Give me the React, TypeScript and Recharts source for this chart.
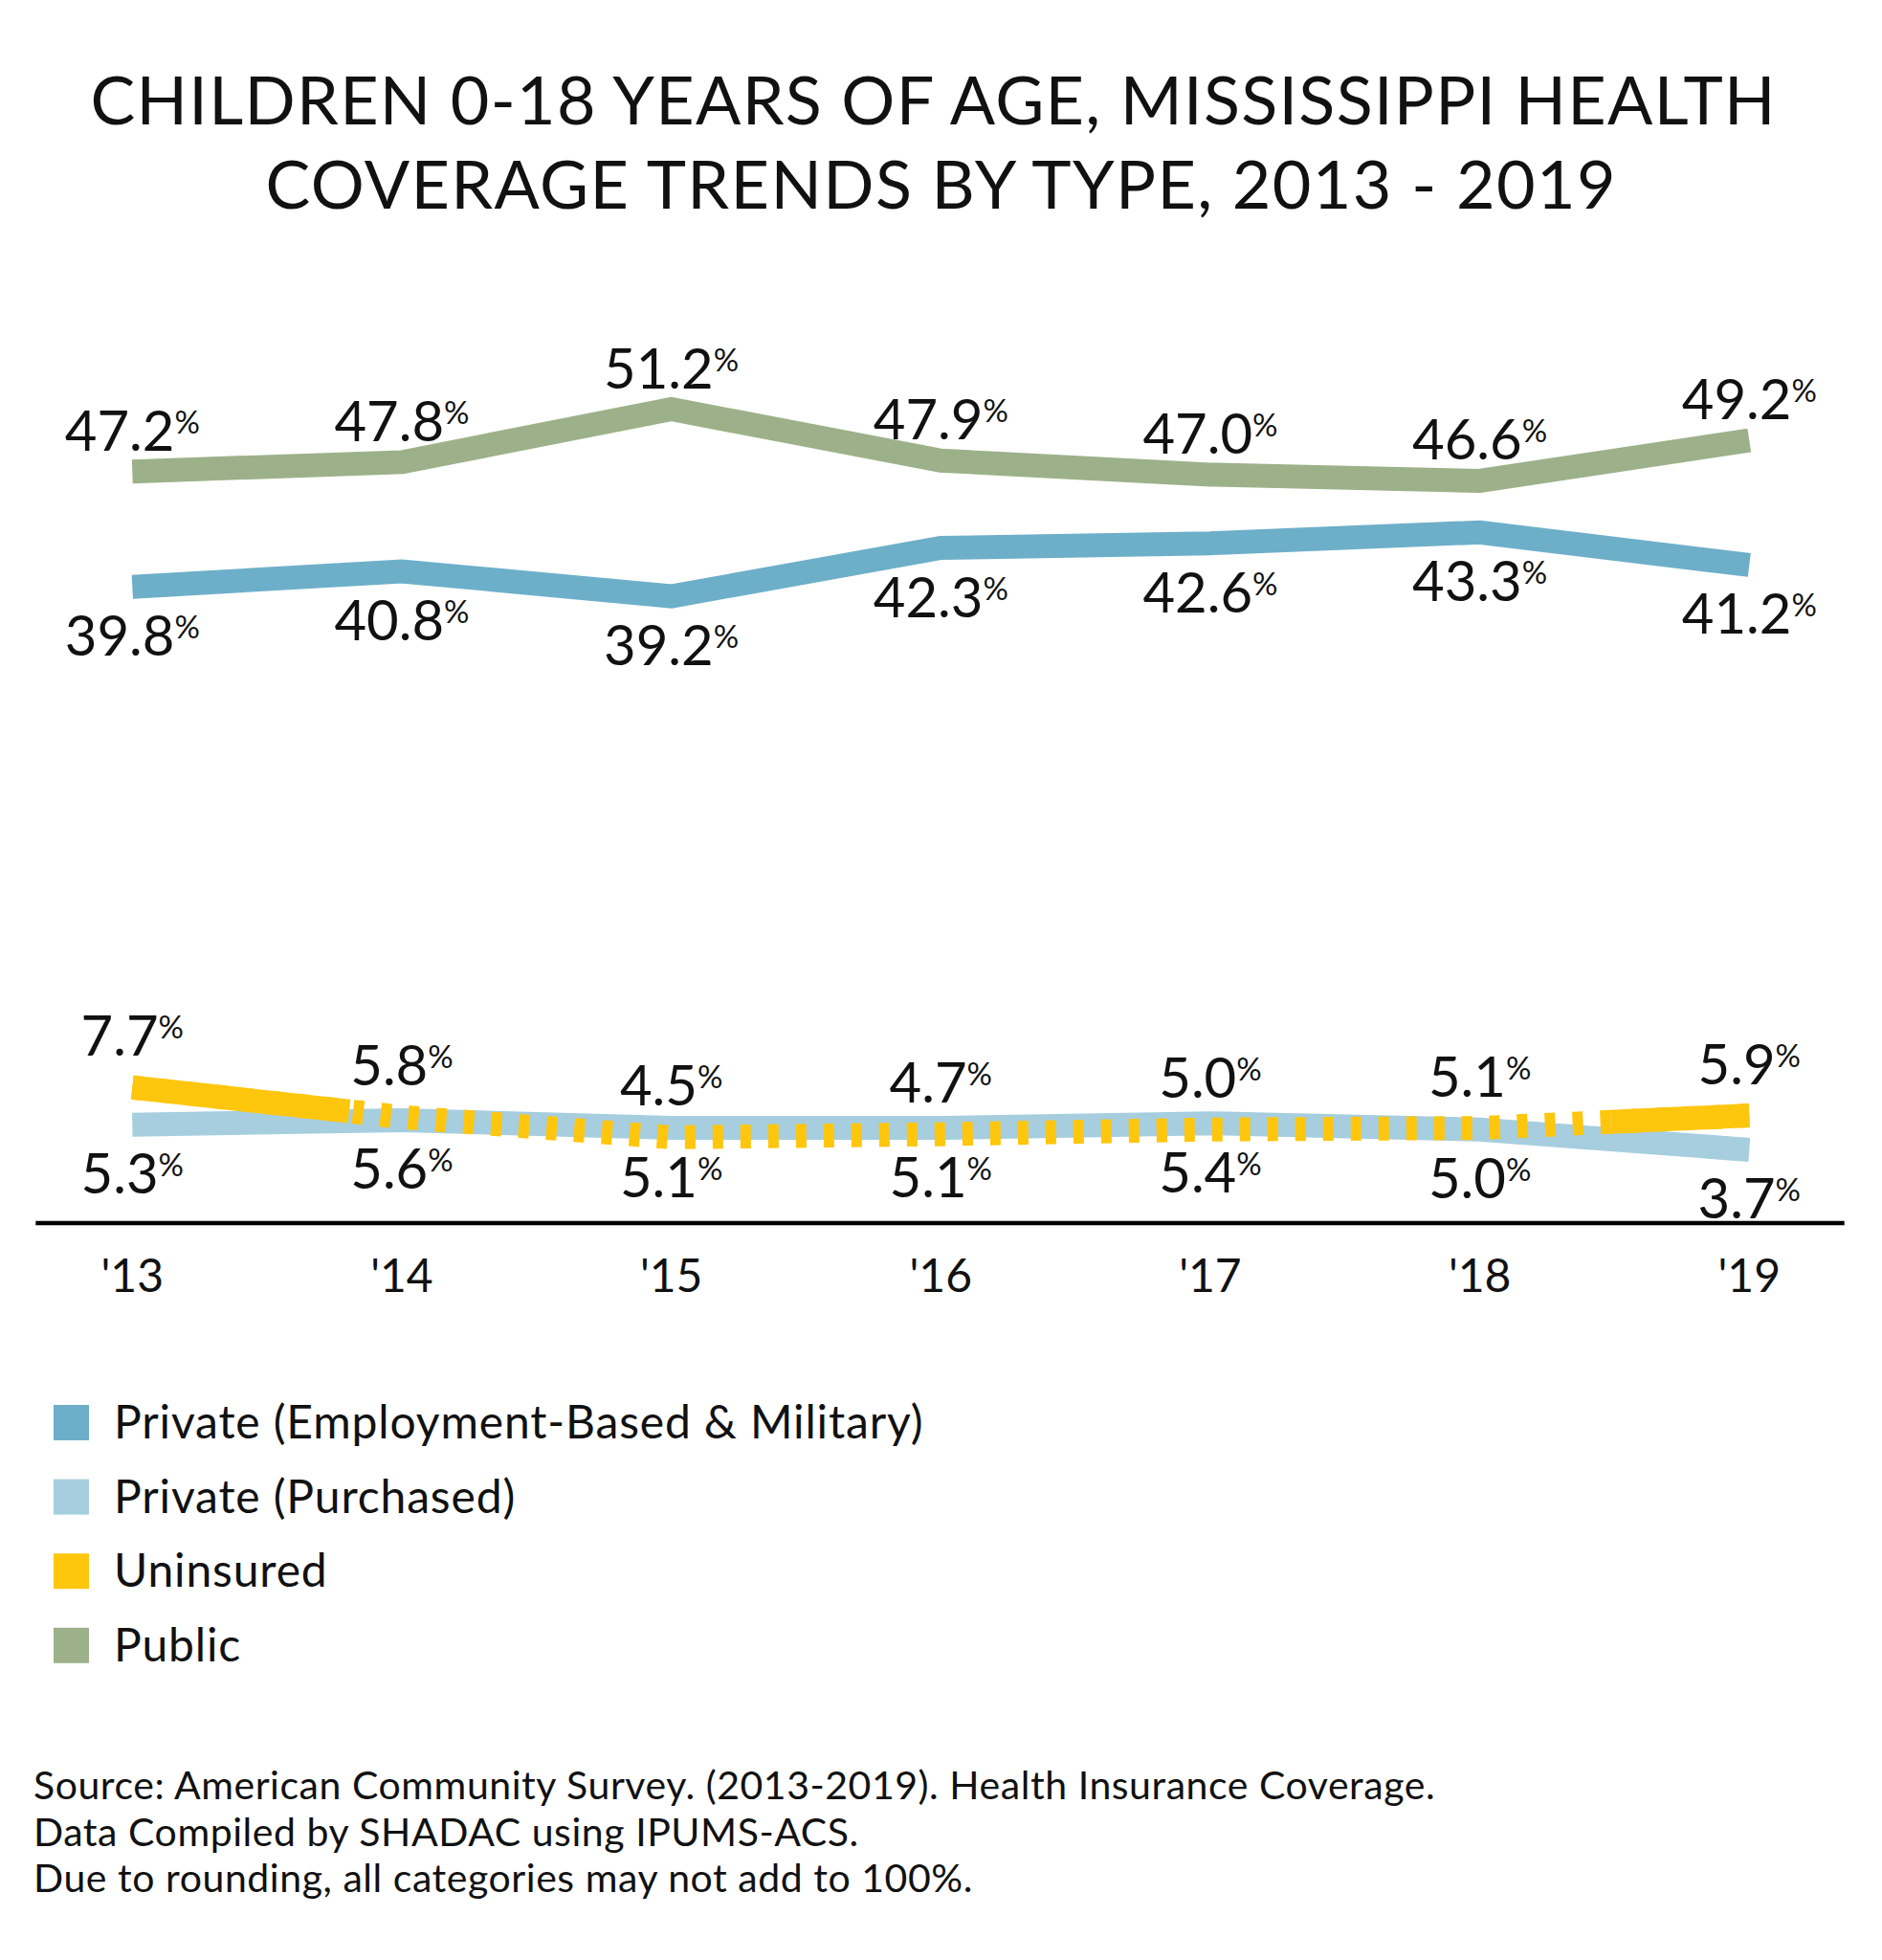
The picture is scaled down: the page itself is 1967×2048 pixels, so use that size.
import { LabelList, Line, LineChart, XAxis, YAxis } from "recharts";

const years = ["'13", "'14", "'15", "'16", "'17", "'18", "'19"];
const privateEmployment = [39.8, 40.8, 39.2, 42.3, 42.6, 43.3, 41.2];
const privatePurchased = [5.3, 5.6, 5.1, 5.1, 5.4, 5.0, 3.7];
const uninsured = [7.7, 5.8, 4.5, 4.7, 5.0, 5.1, 5.9];
const publicCoverage = [47.2, 47.8, 51.2, 47.9, 47.0, 46.6, 49.2];

const legendItems = [
  { label: "Private (Employment-Based & Military)", color: "#6DAFC9" },
  { label: "Private (Purchased)", color: "#A6CEDF" },
  { label: "Uninsured", color: "#FFC60E" },
  { label: "Public", color: "#9CB189" }
];

const sourceLines = [
  "Source: American Community Survey. (2013-2019). Health Insurance Coverage.",
  "Data Compiled by SHADAC using IPUMS-ACS.",
  "Due to rounding, all categories may not add to 100%."
];

const rows = years.map((year, i) => ({
  year,
  employment: privateEmployment[i],
  purchased: privatePurchased[i],
  uninsured: uninsured[i],
  uninsuredStart: i <= 1 ? uninsured[i] : null,
  uninsuredEnd: i >= 5 ? uninsured[i] : null,
  public: publicCoverage[i]
}));

const FONT = "Lato, 'Open Sans', sans-serif";

const pctLabel = (dy: number) => (props: any) => {
  const { x, y, value } = props;
  if (value == null) return null;
  return (
    <text x={x} y={Number(y) + dy} textAnchor="middle" fontFamily={FONT} fontSize={58} fill="#111">
      {Number(value).toFixed(1)}
      <tspan fontSize={33} dy={-18}>%</tspan>
    </text>
  );
};

const YearTick = (props: any) => {
  const { x, y, payload } = props;
  return (
    <text x={x} y={Number(y) + 72} textAnchor="middle" fontFamily={FONT} fontSize={48} fill="#111">
      {payload.value}
    </text>
  );
};

export default function App() {
  const lineProps = {
    type: "linear" as const,
    strokeWidth: 25,
    dot: false,
    activeDot: false,
    isAnimationActive: false,
    strokeLinejoin: "miter" as const,
    strokeLinecap: "butt" as const
  };

  return (
    <div style={{ position: "absolute", left: 0, top: 0, width: 1967, height: 2048, background: "#fff" }}>
      <svg width={1967} height={2048} style={{ position: "absolute", left: 0, top: 0 }}>
        <text x={975} y={130} textAnchor="middle" fontFamily={FONT} fontSize={70} fill="#111" textLength={1761} lengthAdjust="spacing">
          CHILDREN 0-18 YEARS OF AGE, MISSISSIPPI HEALTH
        </text>
        <text x={983} y={218} textAnchor="middle" fontFamily={FONT} fontSize={70} fill="#111" textLength={1411} lengthAdjust="spacing">
          COVERAGE TRENDS BY TYPE, 2013 - 2019
        </text>
        {legendItems.map((item, i) => (
          <g key={item.label}>
            <rect x={56} y={1468 + i * 77.6} width={37} height={37} fill={item.color} />
            <text x={119} y={1503 + i * 77.6} fontFamily={FONT} fontSize={48} letterSpacing={0.85} fill="#111">
              {item.label}
            </text>
          </g>
        ))}
        {sourceLines.map((line, i) => (
          <text key={line} x={35} y={1880 + i * 48.5} fontFamily={FONT} fontSize={41} letterSpacing={0.55} fill="#111">
            {line}
          </text>
        ))}
      </svg>
      <div style={{ position: "absolute", left: 0, top: 0 }}>
        <LineChart width={1967} height={1400} data={rows} margin={{ top: 365.6, right: 39.3, bottom: 62, left: 37.3 }}>
          <XAxis
            dataKey="year"
            padding={{ left: 101, right: 99.4 }}
            height={60}
            tickLine={false}
            tickSize={0}
            tickMargin={0}
            interval={0}
            axisLine={{ stroke: "#000", strokeWidth: 4.5 }}
            tick={<YearTick />}
          />
          <YAxis hide type="number" domain={[-1, 55]} allowDataOverflow />
          <Line {...lineProps} dataKey="public" stroke="#9CB189">
            <LabelList dataKey="public" content={pctLabel(-22)} />
          </Line>
          <Line {...lineProps} dataKey="employment" stroke="#6DAFC9">
            <LabelList dataKey="employment" content={pctLabel(72)} />
          </Line>
          <Line {...lineProps} dataKey="purchased" stroke="#A6CEDF">
            <LabelList dataKey="purchased" content={pctLabel(72)} />
          </Line>
          <Line {...lineProps} dataKey="uninsured" stroke="#FFC60E" strokeDasharray="11 18">
            <LabelList dataKey="uninsured" content={pctLabel(-33)} />
          </Line>
          <Line {...lineProps} dataKey="uninsuredStart" stroke="#FFC60E" strokeDasharray="228 2000" legendType="none" />
          <Line {...lineProps} dataKey="uninsuredEnd" stroke="#FFC60E" strokeDasharray="0 137 2000" legendType="none" />
        </LineChart>
      </div>
    </div>
  );
}
